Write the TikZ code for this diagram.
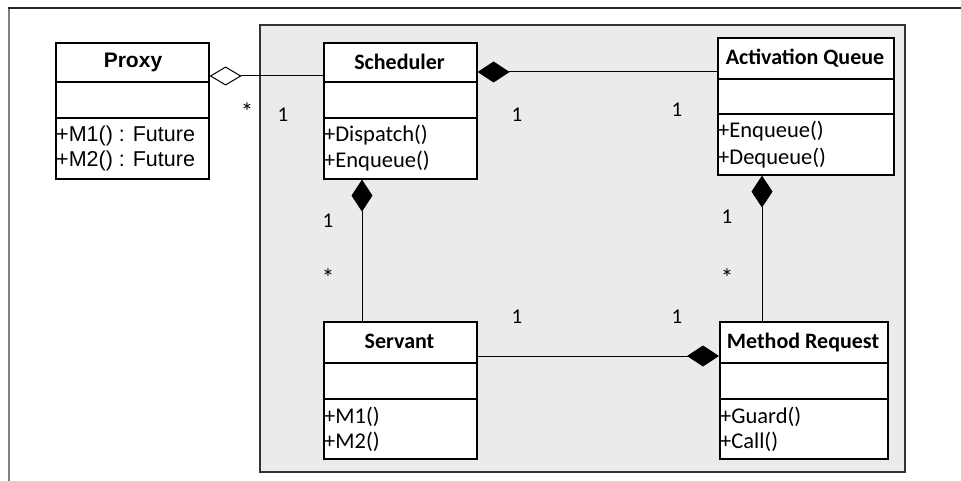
\documentclass[tikz,border=0pt]{standalone}
\usepackage{fontspec}
\setmainfont{Carlito}
\newfontfamily\proxyfont{Liberation Sans}
\usetikzlibrary{arrows.meta}

\tikzset{
    classbox/.style={draw, line width=1.6pt, fill=white, anchor=north west, inner sep=0pt},
    classtitle/.style={anchor=base, inner sep=0pt, font=\fontsize{22}{26}\selectfont\bfseries},
    method/.style={anchor=base west, inner sep=0pt, font=\fontsize{22.5}{26}\selectfont},
    mult/.style={anchor=base, inner sep=0pt, font=\fontsize{21}{25}\selectfont},
    link/.style={line width=1pt},
    compose/.style={link, {Diamond[length=32pt, width=21pt]}-},
    aggregate/.style={link, {Diamond[open, fill=white, length=32pt, width=19pt]}-}
}

\begin{document}
\begin{tikzpicture}[x=1pt, y=-1pt]

    % Fix the page to the size of the reference
    \useasboundingbox (0,0) rectangle (961,481);

    % Draw the outer frame (only top and left edge are visible)
    \draw[gray, line width=2pt] (9,481) -- (9,8);
    \draw[black!85, line width=1.5pt] (8,8) -- (961,8);

    % Draw the grey package area
    \draw[fill=black!8, draw=black!80, line width=1.6pt] (260,25) rectangle (905,472);

    % Class Proxy (outside the package)
    \node[classbox, minimum width=153pt, minimum height=136pt] (proxy) at (55,42) {};
    \draw[line width=1.6pt] (proxy.west |- 0,82) -- (proxy.east |- 0,82);
    \draw[line width=1.6pt] (proxy.west |- 0,118) -- (proxy.east |- 0,118);
    \node[classtitle, font=\fontsize{21}{25}\selectfont\proxyfont\bfseries] (proxyname) at (133,68) {Proxy};
    \node[method, font=\fontsize{21.5}{25}\selectfont\proxyfont] (proxym1) at (56,142) {+M1() : Future};
    \node[method, font=\fontsize{21.5}{25}\selectfont\proxyfont] (proxym2) at (56,167) {+M2() : Future};

    % Class Scheduler
    \node[classbox, minimum width=153pt, minimum height=136pt] (sched) at (323,42) {};
    \draw[line width=1.6pt] (sched.west |- 0,82) -- (sched.east |- 0,82);
    \draw[line width=1.6pt] (sched.west |- 0,118) -- (sched.east |- 0,118);
    \node[classtitle] (schedname) at (399.5,70) {Scheduler};
    \node[method] (schedm1) at (324,142) {+Dispatch()};
    \node[method] (schedm2) at (324,168) {+Enqueue()};

    % Class Activation Queue
    \node[classbox, minimum width=176pt, minimum height=137pt] (queue) at (717,37) {};
    \draw[line width=1.6pt] (queue.west |- 0,79) -- (queue.east |- 0,79);
    \draw[line width=1.6pt] (queue.west |- 0,114) -- (queue.east |- 0,114);
    \node[classtitle] (queuename) at (805,65) {Activation Queue};
    \node[method] (queuem1) at (718,138) {+Enqueue()};
    \node[method] (queuem2) at (718,165) {+Dequeue()};

    % Class Servant
    \node[classbox, minimum width=153pt, minimum height=137pt] (servant) at (323,321) {};
    \draw[line width=1.6pt] (servant.west |- 0,363) -- (servant.east |- 0,363);
    \draw[line width=1.6pt] (servant.west |- 0,399) -- (servant.east |- 0,399);
    \node[classtitle] (servantname) at (399.5,348) {Servant};
    \node[method] (servantm1) at (324,423) {+M1()};
    \node[method] (servantm2) at (324,448) {+M2()};

    % Class Method Request
    \node[classbox, minimum width=168pt, minimum height=137pt] (request) at (719,321) {};
    \draw[line width=1.6pt] (request.west |- 0,363) -- (request.east |- 0,363);
    \draw[line width=1.6pt] (request.west |- 0,399) -- (request.east |- 0,399);
    \node[classtitle] (requestname) at (803,348) {Method Request};
    \node[method] (requestm1) at (720,423) {+Guard()};
    \node[method] (requestm2) at (720,448) {+Call()};

    % Rows and columns of the connectors
    \coordinate (proxyrow) at (0,76);
    \coordinate (queuerow) at (0,72);
    \coordinate (requestrow) at (0,356);
    \coordinate (servantcol) at (362,0);
    \coordinate (requestcol) at (762,0);

    % Draw the associations
    \draw[aggregate] (proxy.east |- proxyrow) -- (sched.west |- proxyrow);
    \draw[compose] (sched.east |- queuerow) -- (queue.west |- queuerow);
    \draw[compose] (sched.south -| servantcol) -- (servant.north -| servantcol);
    \draw[compose] (queue.south -| requestcol) -- (request.north -| requestcol);
    \draw[compose] (request.west |- requestrow) -- (servant.east |- requestrow);

    % Place the multiplicities
    \node[mult, font=\fontsize{25}{25}\selectfont] (m1) at (247,121) {*};
    \node[mult] (m2) at (283,122) {1};
    \node[mult] (m3) at (517,122) {1};
    \node[mult] (m4) at (677,117) {1};
    \node[mult] (m5) at (328,228) {1};
    \node[mult, font=\fontsize{25}{25}\selectfont] (m6) at (328,286) {*};
    \node[mult] (m7) at (727,224) {1};
    \node[mult, font=\fontsize{25}{25}\selectfont] (m8) at (727,286) {*};
    \node[mult] (m9) at (517,323) {1};
    \node[mult] (m10) at (677,323) {1};

\end{tikzpicture}
\end{document}
